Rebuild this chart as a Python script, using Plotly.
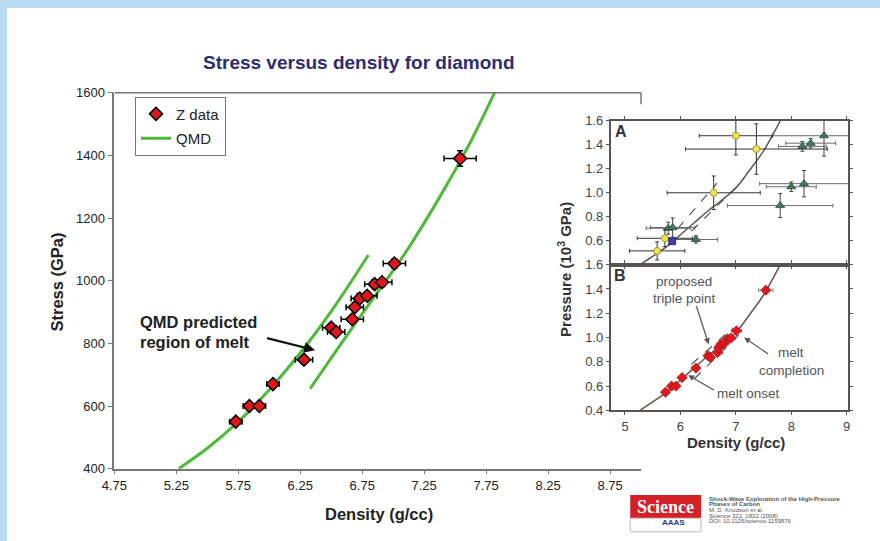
import plotly.graph_objects as go

# ---------------- main chart data ----------------
z_density = [5.73, 5.84, 5.92, 6.03, 6.28, 6.50, 6.54, 6.67, 6.69, 6.73, 6.79, 6.85, 6.91, 7.01, 7.54]
z_stress = [550, 600, 600, 670, 748, 850, 836, 877, 915, 943, 952, 989, 995, 1055, 1390]
z_density_err = [0.05, 0.05, 0.05, 0.05, 0.07, 0.07, 0.07, 0.09, 0.07, 0.07, 0.08, 0.08, 0.08, 0.09, 0.13]
z_stress_err = [10, 10, 10, 10, 12, 12, 12, 12, 12, 12, 12, 12, 12, 15, 25]

qmd_solid_density = [5.27, 5.50, 5.75, 6.00, 6.25, 6.50, 6.80]
qmd_solid_stress = [400, 465, 550, 652, 769, 902, 1082]
qmd_liquid_density = [6.33, 6.60, 6.85, 7.10, 7.35, 7.60, 7.83]
qmd_liquid_stress = [655, 810, 950, 1090, 1250, 1425, 1610]

main_xticks = [4.75, 5.25, 5.75, 6.25, 6.75, 7.25, 7.75, 8.25, 8.75]
main_yticks = [400, 600, 800, 1000, 1200, 1400, 1600]

# ---------------- inset data ----------------
a_yellow_x = [7.00, 7.37, 6.60, 5.72, 5.58]
a_yellow_y = [1.476, 1.365, 1.00, 0.62, 0.515]
a_yellow_ex = [0.66, 1.28, 0.84, 0.50, 0.50]
a_yellow_ey = [0.16, 0.21, 0.14, 0.07, 0.075]

a_green_x = [8.59, 8.35, 8.20, 8.00, 8.23, 7.80, 5.78, 5.86, 6.28]
a_green_y = [1.476, 1.414, 1.387, 1.05, 1.076, 0.893, 0.704, 0.71, 0.61]
a_green_ex = [0.93, 0.45, 0.43, 0.45, 0.80, 0.95, 0.40, 0.40, 0.39]
a_green_ey = [0.17, 0.04, 0.04, 0.04, 0.11, 0.10, 0.05, 0.08, 0.03]

a_blue_x = [5.85]
a_blue_y = [0.596]

hug_density = [5.27, 5.50, 5.75, 6.00, 6.25, 6.50, 6.75, 7.00, 7.25, 7.50, 7.80]
hug_pressure = [0.40, 0.47, 0.55, 0.65, 0.75, 0.85, 0.94, 1.04, 1.19, 1.35, 1.60]

a_dash1_x = [5.95, 6.66]
a_dash1_y = [0.70, 1.08]
a_dash2_x = [6.20, 7.08]
a_dash2_y = [0.68, 1.08]

b_dash1_x = [6.20, 6.95]
b_dash1_y = [0.78, 1.08]
b_dash2_x = [6.25, 7.05]
b_dash2_y = [0.66, 1.02]

# Panel B shows the Z data converted to 10^3 GPa
b_z_density = z_density
b_z_pressure = [s / 1000 for s in z_stress]
b_z_err = [e / 1000 for e in z_stress_err]

inset_xticks = [5, 6, 7, 8, 9]
a_yticks = [0.6, 0.8, 1.0, 1.2, 1.4, 1.6]
b_yticks = [0.4, 0.6, 0.8, 1.0, 1.2, 1.4, 1.6]

# The page body keeps its default 8px margin, so the figure is 16px smaller
# than the window and every position below is given in window pixels.
OFF = 8
W, H = 880 - 2 * OFF, 541 - 2 * OFF
FONT = "Liberation Sans, Arial, sans-serif"
GREEN = "#4dbb38"


def px(xp):
    return (xp - OFF) / W


def py(yp):
    return 1 - (yp - OFF) / H


fig = go.Figure()

# main QMD curves
fig.add_trace(go.Scatter(x=qmd_solid_density, y=qmd_solid_stress, mode="lines",
                         line=dict(color=GREEN, width=3, shape="spline"),
                         name="QMD", legendgroup="b", legendrank=2, showlegend=True,
                         xaxis="x", yaxis="y"))
fig.add_trace(go.Scatter(x=qmd_liquid_density, y=qmd_liquid_stress, mode="lines",
                         line=dict(color=GREEN, width=3, shape="spline"),
                         name="QMD", legendgroup="b", showlegend=False,
                         xaxis="x", yaxis="y"))
fig.add_trace(go.Scatter(x=z_density, y=z_stress, mode="markers", name="Z data",
                         legendgroup="a", legendrank=1,
                         marker=dict(symbol="diamond", size=10, color="#e3151b",
                                     line=dict(color="black", width=1.5)),
                         error_x=dict(type="data", array=z_density_err, color="black",
                                      thickness=1.5, width=3),
                         error_y=dict(type="data", array=z_stress_err, color="black",
                                      thickness=1.5, width=3),
                         xaxis="x", yaxis="y"))

# inset curves
for xa, ya in (("x2", "y2"), ("x3", "y3")):
    fig.add_trace(go.Scatter(x=hug_density, y=hug_pressure, mode="lines",
                             line=dict(color="#6b5050", width=1.5, shape="spline"),
                             showlegend=False, xaxis=xa, yaxis=ya))
for dx, dy, xa, ya in ((a_dash1_x, a_dash1_y, "x2", "y2"), (a_dash2_x, a_dash2_y, "x2", "y2"),
                       (b_dash1_x, b_dash1_y, "x3", "y3"), (b_dash2_x, b_dash2_y, "x3", "y3")):
    fig.add_trace(go.Scatter(x=dx, y=dy, mode="lines",
                             line=dict(color="#555555", width=1.2, dash="dash"),
                             showlegend=False, xaxis=xa, yaxis=ya))

fig.add_trace(go.Scatter(x=a_green_x, y=a_green_y, mode="markers", showlegend=False,
                         marker=dict(symbol="triangle-up", size=8, color="#3f7a5c",
                                     line=dict(color="#2a4a3a", width=0.8)),
                         error_x=dict(type="data", array=a_green_ex, color="#6a6a6a",
                                      thickness=1, width=2),
                         error_y=dict(type="data", array=a_green_ey, color="#444444",
                                      thickness=1, width=2),
                         xaxis="x2", yaxis="y2"))
fig.add_trace(go.Scatter(x=a_yellow_x, y=a_yellow_y, mode="markers", showlegend=False,
                         marker=dict(symbol="circle", size=7, color="#f1e24a",
                                     line=dict(color="#8a8a40", width=0.8)),
                         error_x=dict(type="data", array=a_yellow_ex, color="#333333",
                                      thickness=1, width=2),
                         error_y=dict(type="data", array=a_yellow_ey, color="#333333",
                                      thickness=1, width=2),
                         xaxis="x2", yaxis="y2"))
fig.add_trace(go.Scatter(x=a_blue_x, y=a_blue_y, mode="markers", showlegend=False,
                         marker=dict(symbol="square", size=7, color="#4040a8",
                                     line=dict(color="#202060", width=0.8)),
                         xaxis="x2", yaxis="y2"))
fig.add_trace(go.Scatter(x=b_z_density, y=b_z_pressure, mode="markers", showlegend=False,
                         marker=dict(symbol="diamond", size=8, color="#e3151b",
                                     line=dict(color="#7a2020", width=0.6)),
                         error_x=dict(type="data", array=z_density_err, color="#888888",
                                      thickness=1, width=2),
                         error_y=dict(type="data", array=b_z_err, color="#888888",
                                      thickness=1, width=2),
                         xaxis="x3", yaxis="y3"))

tickfont_main = dict(family=FONT, size=13, color="#222222")
tickfont_inset = dict(family=FONT, size=13, color="#444444")

fig.update_layout(
    width=W, height=H, autosize=False,
    margin=dict(l=0, r=0, t=0, b=0),
    paper_bgcolor="white", plot_bgcolor="rgba(0,0,0,0)",
    font=dict(family=FONT),
    showlegend=True,
    legend=dict(x=px(124), y=py(92), xanchor="left", yanchor="top",
                bordercolor="#777777", borderwidth=1, bgcolor="white",
                font=dict(family=FONT, size=15, color="#222222"),
                tracegroupgap=2, traceorder="grouped", itemwidth=30),
    xaxis=dict(domain=[px(103), px(639)], range=[4.75, 9.0], tickvals=main_xticks,
               ticktext=[f"{v:.2f}" for v in main_xticks], ticks="outside", ticklen=4,
               tickcolor="#777777", showline=True, linecolor="#777777", linewidth=1.5,
               showgrid=False, zeroline=False, tickfont=tickfont_main, anchor="y"),
    yaxis=dict(domain=[py(475), py(88)], range=[400, 1600], tickvals=main_yticks,
               ticks="outside", ticklen=5, tickcolor="#777777", showline=True,
               linecolor="#777777", linewidth=1.5, showgrid=False, zeroline=False,
               tickfont=tickfont_main, anchor="x"),
    xaxis2=dict(domain=[px(608), px(850)], range=[4.74, 9.03], tickvals=inset_xticks,
                showticklabels=False, ticks="outside", ticklen=3, tickcolor="#555555",
                showline=True, linecolor="#555555", linewidth=1.5, mirror="ticks",
                showgrid=False, zeroline=False, anchor="y2"),
    yaxis2=dict(domain=[py(265), py(117)], range=[0.4, 1.6], tickvals=a_yticks,
                ticktext=[f"{v:.1f}" for v in a_yticks], ticks="outside", ticklen=3,
                tickcolor="#555555", showline=True, linecolor="#555555", linewidth=1.5,
                mirror="ticks", showgrid=False, zeroline=False, tickfont=tickfont_inset,
                anchor="x2"),
    xaxis3=dict(domain=[px(608), px(850)], range=[4.74, 9.03], tickvals=inset_xticks,
                ticks="outside", ticklen=3, tickcolor="#555555", showline=True,
                linecolor="#555555", linewidth=1.5, mirror="ticks", showgrid=False,
                zeroline=False, tickfont=dict(family=FONT, size=13, color="#444444"),
                anchor="y3"),
    yaxis3=dict(domain=[py(415), py(265)], range=[0.4, 1.6], tickvals=b_yticks,
                ticktext=[f"{v:.1f}" for v in b_yticks], ticks="outside", ticklen=3,
                tickcolor="#555555", showline=True, linecolor="#555555", linewidth=1.5,
                mirror="ticks", showgrid=False, zeroline=False, tickfont=tickfont_inset,
                anchor="x3"),
)

shapes = [
    # main frame top and short right piece
    dict(type="line", xref="paper", yref="paper", x0=px(103), x1=px(639), y0=py(88), y1=py(88),
         line=dict(color="#777777", width=1.5)),
    dict(type="line", xref="paper", yref="paper", x0=px(639), x1=px(639), y0=py(88), y1=py(100),
         line=dict(color="#777777", width=1.5)),
    # Science logo
    dict(type="rect", xref="paper", yref="paper", x0=px(628), x1=px(700), y0=py(526), y1=py(502),
         fillcolor="#d42027", line=dict(width=0)),
    dict(type="rect", xref="paper", yref="paper", x0=px(628), x1=px(700), y0=py(540), y1=py(526),
         fillcolor="white", line=dict(color="#bbbbbb", width=1)),
]
fig.update_layout(shapes=shapes)


def txt(text, xp, yp, size, color="#222222", family=FONT, angle=0, xanchor="center"):
    return dict(text=text, xref="paper", yref="paper", x=px(xp), y=py(yp),
                xanchor=xanchor, yanchor="middle", showarrow=False, textangle=angle,
                font=dict(family=family, size=size, color=color))


ann = []
ann.append(txt("<b>Stress versus density for diamond</b>", 352, 57, 19, "#2d2d72"))
ann.append(txt("<b>Density (g/cc)</b>", 372, 522, 16.5))
ann.append(txt("<b>Stress (GPa)</b>", 45, 283, 16.5, angle=-90))
ann.append(txt("<b>QMD predicted</b>", 127, 324, 16.5, xanchor="left"))
ann.append(txt("<b>region of melt</b>", 127, 345, 16.5, xanchor="left"))
ann.append(dict(text="", x=6.37, y=778, xref="x", yref="y", ax=5.97, ay=818, axref="x", ayref="y",
                showarrow=True, arrowhead=2, arrowsize=1, arrowwidth=2.2, arrowcolor="#111111"))
# inset texts
ann.append(txt("<b>A</b>", 619, 128, 16, "#333333"))
ann.append(txt("<b>B</b>", 618, 276, 16, "#333333"))
ann.append(txt("<b>Pressure (10<sup>3</sup> GPa)</b>", 561, 270, 15, "#333333", angle=-90))
ann.append(txt("<b>Density (g/cc)</b>", 736, 448, 15, "#333333"))
gray = dict(family=FONT, size=13.5, color="#555555")
for t, xv, yv in (("proposed", 6.07, 1.46), ("triple point", 6.07, 1.32), ("melt", 8.0, 0.878),
                  ("completion", 8.0, 0.732), ("melt onset", 7.22, 0.536)):
    ann.append(dict(text=t, xref="x3", yref="y3", x=xv, y=yv, xanchor="center", yanchor="middle",
                    showarrow=False, font=gray))
for (tx, ty, hx, hy) in ((6.28, 1.27, 6.51, 0.945), (7.61, 0.856, 7.15, 1.0), (6.63, 0.56, 6.14, 0.69)):
    ann.append(dict(text="", x=hx, y=hy, xref="x3", yref="y3", ax=tx, ay=ty, axref="x3", ayref="y3",
                    showarrow=True, arrowhead=2, arrowsize=1, arrowwidth=1.2, arrowcolor="#555555"))
# Science logo texts
ann.append(txt("<b>Science</b>", 664, 514, 18, "white", family="Liberation Serif, DejaVu Serif, serif"))
ann.append(txt("<b>AAAS</b>", 672, 530, 8, "#1a3a8a"))
ref_lines = ["<b>Shock-Wave Exploration of the High-Pressure</b>", "<b>Phases of Carbon</b>",
             "M. D. Knudson et al.", "<i>Science</i> 322, 1822 (2008)", "DOI: 10.1126/science.1159876"]
for i, t in enumerate(ref_lines):
    ann.append(txt(t, 706, 506 + 5.8 * i, 6, "#555555", xanchor="left"))
fig.update_layout(annotations=ann)

# light-blue slide border on the top and left page margins
post = ("document.body.style.background='linear-gradient(to bottom, #b9dcf3 0px, #b9dcf3 8px, "
        "rgba(0,0,0,0) 8px), linear-gradient(to right, #b9dcf3 0px, #b9dcf3 7px, #ffffff 7px)';"
        "document.body.style.backgroundRepeat='no-repeat';"
        "document.body.style.backgroundSize='100% 100%';"
        "document.documentElement.style.minHeight='100%';")
fig.write_html("out.html", post_script=post, config={"displayModeBar": False})
